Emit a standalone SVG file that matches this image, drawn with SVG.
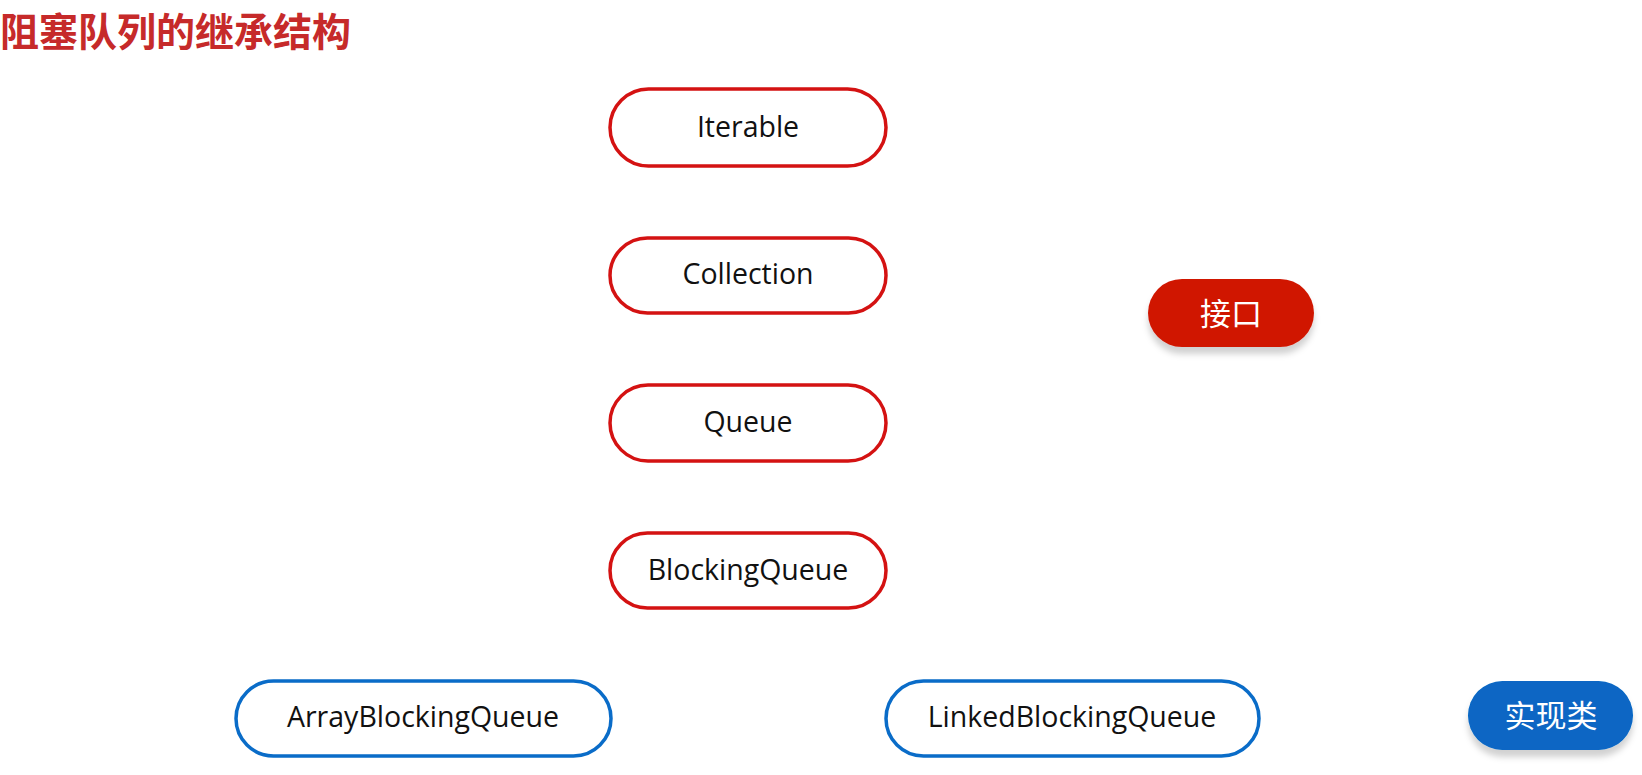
<svg xmlns="http://www.w3.org/2000/svg" width="1642" height="775" viewBox="0 0 1642 775">
<defs>
<style>
.iface rect{fill:#fff;stroke:#d41212;stroke-width:3.5}
.impl rect{fill:#fff;stroke:#0a6cc8;stroke-width:3.5}
.lbl{font-family:"Open Sans","Noto Sans","DejaVu Sans",sans-serif;font-size:28.5px;fill:#111;text-anchor:middle;dominant-baseline:central}
.legend{font-family:"Noto Sans CJK SC","Noto Sans",sans-serif;font-size:31px;fill:#fff;text-anchor:middle;dominant-baseline:central}
.title{font-family:"Noto Sans CJK SC",sans-serif;font-size:39px;font-weight:bold;fill:#c62a2a}
</style>
<filter id="sh" x="-20%" y="-20%" width="140%" height="160%">
<feDropShadow dx="0" dy="7" stdDeviation="3" flood-color="#000" flood-opacity="0.18"/>
</filter>
</defs>
<rect width="1642" height="775" fill="#fff"/>
<text class="title" x="0" y="46">阻塞队列的继承结构</text>
<g id="connectors"></g>
<g id="iterable" class="iface"><rect x="610" y="89" width="276" height="77" rx="38.5"/><text class="lbl" x="748" y="126">Iterable</text></g>
<g id="collection" class="iface"><rect x="610" y="238" width="276" height="75" rx="37.5"/><text class="lbl" x="748" y="273">Collection</text></g>
<g id="queue" class="iface"><rect x="610" y="385" width="276" height="76" rx="38"/><text class="lbl" x="748" y="421">Queue</text></g>
<g id="blockingqueue" class="iface"><rect x="610" y="533" width="276" height="75" rx="37.5"/><text class="lbl" x="748" y="569">BlockingQueue</text></g>
<g id="arrayblockingqueue" class="impl"><rect x="236" y="681" width="375" height="75" rx="37.5"/><text class="lbl" x="423" y="716">ArrayBlockingQueue</text></g>
<g id="linkedblockingqueue" class="impl"><rect x="886" y="681" width="373" height="75" rx="37.5"/><text class="lbl" x="1072" y="716">LinkedBlockingQueue</text></g>
<g id="legend-interface"><rect x="1148" y="279" width="166" height="68" rx="34" fill="#d01505" filter="url(#sh)"/><text class="legend" x="1231" y="311">接口</text></g>
<g id="legend-impl"><rect x="1468" y="681" width="165" height="69" rx="34.5" fill="#0766c4" filter="url(#sh)"/><text class="legend" x="1551" y="713">实现类</text></g>
</svg>
